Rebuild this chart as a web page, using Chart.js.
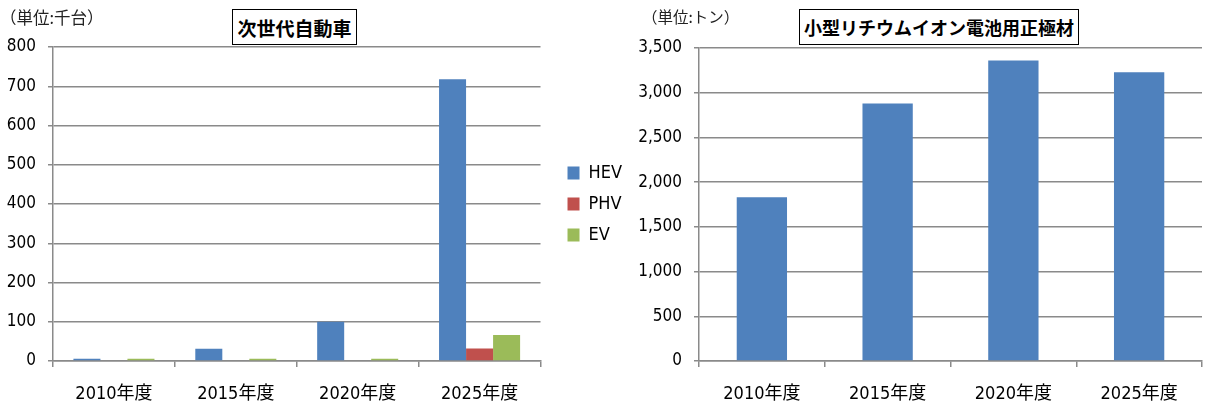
<!DOCTYPE html>
<html lang="ja">
<head>
<meta charset="utf-8">
<script src="https://cdn.jsdelivr.net/npm/chart.js@4.4.1/dist/chart.umd.min.js"></script>
<style>
  html, body { margin: 0; padding: 0; background: #fff; }
  body { width: 1209px; height: 405px; position: relative; overflow: hidden; }
  canvas { position: absolute; top: 0; }
  #carChart { left: 0; }
  #cathodeChart { left: 600px; }
  .unit {
    position: absolute; top: 5px;
    font-family: 'Noto Sans CJK JP', sans-serif; color: #222;
  }
  .title {
    position: absolute; top: 9px; height: 36px; box-sizing: border-box;
    border: 1.5px solid #000; background: #fff;
    font-family: 'Noto Sans CJK JP', sans-serif; font-weight: bold; color: #000;
    display: flex; align-items: center; justify-content: center;
  }
</style>
</head>
<body>
<canvas id="carChart" width="640" height="405"></canvas>
<canvas id="cathodeChart" width="609" height="405"></canvas>
<div class="unit" style="left:0px; font-size:16.5px;">（単位:千台）</div>
<div class="title" style="left:232px; width:125px; font-size:19px;">次世代自動車</div>
<div class="unit" style="left:642px; font-size:15.5px;">（単位:トン）</div>
<div class="title" style="left:799px; width:280px; font-size:18px;">小型リチウムイオン電池用正極材</div>

<script>
// データ
const years = ['2010年度', '2015年度', '2020年度', '2025年度'];
const seriesNames = ['HEV', 'PHV', 'EV'];
const hevValues = [6, 31, 100, 718];
const phvValues = [0, 0, 0, 32];
const evValues = [6, 6, 6, 66];
const cathodeValues = [1830, 2880, 3360, 3230];
const carTicks = [0, 100, 200, 300, 400, 500, 600, 700, 800];
const cathodeTicks = [0, 500, 1000, 1500, 2000, 2500, 3000, 3500];

const FONT = "'DejaVu Sans Condensed', 'Noto Sans CJK JP', sans-serif";
const GRID = '#8a8a8a';

Chart.defaults.font.family = FONT;
Chart.defaults.color = '#000';
Chart.defaults.animation = false;

// 共通の軸設定
function xAxis() {
  return {
    grid: { display: true, drawOnChartArea: false, drawTicks: true, tickLength: 6, color: GRID, lineWidth: 1.5, offset: true },
    border: { display: true, color: GRID, width: 1.5 },
    ticks: { font: { size: 18 }, padding: 17, color: '#000' },
    afterFit: s => { s.height = 44; }
  };
}
function yAxis(max, step, width) {
  return {
    min: 0, max: max,
    grid: { color: GRID, lineWidth: 1.5, tickLength: 5 },
    border: { display: true, color: GRID, width: 1.5 },
    ticks: { stepSize: step, font: { size: 17 }, padding: 12, color: '#000' },
    afterFit: s => { s.width = width; }
  };
}

// 次世代自動車
new Chart(document.getElementById('carChart'), {
  type: 'bar',
  data: {
    labels: years,
    datasets: [
      { label: seriesNames[0], data: hevValues, backgroundColor: '#4F81BD' },
      { label: seriesNames[1], data: phvValues, backgroundColor: '#C0504D' },
      { label: seriesNames[2], data: evValues, backgroundColor: '#9BBB59' }
    ]
  },
  options: {
    responsive: false,
    layout: { padding: { top: 47, left: 0, right: 8, bottom: 0 } },
    datasets: { bar: { categoryPercentage: 0.665, barPercentage: 1.0 } },
    scales: {
      x: xAxis(),
      y: yAxis(carTicks[carTicks.length - 1], carTicks[1] - carTicks[0], 53),
      // 凡例との間隔用の空き軸
      gap: {
        type: 'linear', position: 'right', display: true,
        grid: { display: false }, border: { display: false }, ticks: { display: false },
        afterFit: s => { s.width = 14; }
      }
    },
    plugins: {
      legend: {
        position: 'right',
        fullSize: false,
        labels: { boxWidth: 12, boxHeight: 13, padding: 13, font: { size: 18 }, color: '#000' }
      },
      tooltip: { enabled: false }
    }
  }
});

// 小型リチウムイオン電池用正極材
new Chart(document.getElementById('cathodeChart'), {
  type: 'bar',
  data: {
    labels: years,
    datasets: [
      { label: '正極材', data: cathodeValues, backgroundColor: '#4F81BD' }
    ]
  },
  options: {
    responsive: false,
    layout: { padding: { top: 48, left: 0, right: 7, bottom: 0 } },
    datasets: { bar: { categoryPercentage: 0.8, barPercentage: 0.5 } },
    scales: {
      x: xAxis(),
      y: yAxis(cathodeTicks[cathodeTicks.length - 1], cathodeTicks[1] - cathodeTicks[0], 99)
    },
    plugins: {
      legend: { display: false },
      tooltip: { enabled: false }
    }
  }
});
</script>
</body>
</html>
